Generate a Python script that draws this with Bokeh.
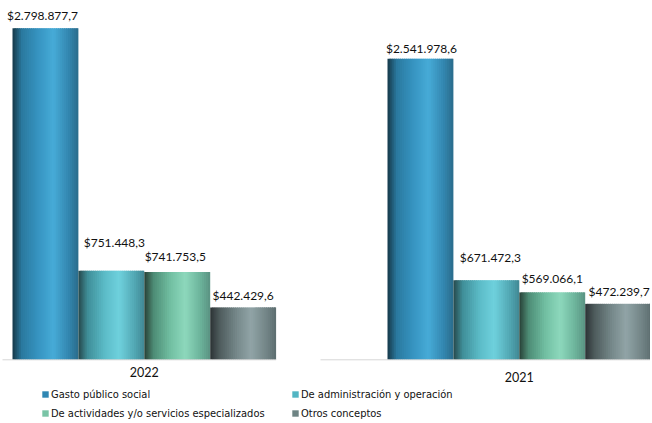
import numpy as np
from bokeh.plotting import figure
from bokeh.models import Range1d, Legend, LegendItem, ColumnDataSource
from bokeh.core.properties import value
from bokeh.embed import file_html
from bokeh.resources import INLINE

# ---------------- data ----------------
years = ["2022", "2021"]
series = ["Gasto público social", "De administración y operación",
          "De actividades y/o servicios especializados", "Otros conceptos"]
values_2022 = [2798877.7, 751448.3, 741753.5, 442429.6]
values_2021 = [2541978.6, 671472.3, 569066.1, 472239.7]
group_values = [values_2022, values_2021]

# ---------------- style ----------------
gradients = [
    [(0.0, "#163848"), (0.14, "#2a799f"), (0.40, "#3795c2"), (0.62, "#47abd7"), (0.85, "#3387b0"), (1.0, "#2a6c8b")],
    [(0.0, "#26484c"), (0.14, "#3f8e98"), (0.40, "#5cbcc8"), (0.62, "#6fd1dd"), (0.85, "#52a8b4"), (1.0, "#418894")],
    [(0.0, "#283f36"), (0.14, "#4d8c75"), (0.40, "#72c0a3"), (0.62, "#8dd8bc"), (0.85, "#6cb39b"), (1.0, "#5a9382")],
    [(0.0, "#2b3335"), (0.14, "#4e5b5c"), (0.40, "#75888a"), (0.62, "#91a4a7"), (0.85, "#738587"), (1.0, "#5d6e70")],
]
legend_colors = ["#2f87b3", "#52b5c3", "#79c4a6", "#6e8484"]

W, H = 650, 423
UNIT = 65.9            # px per bar
G1_START_PX = 12.0
BASE1_START_PX = 2.0
G2_START_PX = 387.0
BASE2_START_PX = 320.0
BASE_PX = 359.3        # baseline, px from top of frame
TOP_PX = 27.7          # top of tallest bar
# per-label offsets (px): centre of label above bar top, and horizontal shift
label_dy = [[13.2, 28.5, 15.3, 12.2], [10.3, 23.2, 14.3, 12.0]]
label_dx = [[-3, 3, -2, 0], [1, 4, 0, 1]]
year_dy = [11.7, 17.2]

X0 = -0.5 - G1_START_PX / UNIT
X1 = X0 + W / UNIT
group_offsets = [0.0, X0 + G2_START_PX / UNIT + 0.5]

max_val = max(max(v) for v in group_values)
upp = max_val / (BASE_PX - TOP_PX)
Y1 = BASE_PX * upp
Y0 = -(H - BASE_PX) * upp


def fmt(v):
    s = f"{v:,.1f}"
    return "$" + s.replace(",", "X").replace(".", ",").replace("X", ".")


def hex2rgb(h):
    h = h.lstrip("#")
    return np.array([int(h[i:i + 2], 16) for i in (0, 2, 4)], dtype=float)


def grad_color(stops, t):
    pos = [s[0] for s in stops]
    cols = np.array([hex2rgb(s[1]) for s in stops])
    rgb = [np.interp(t, pos, cols[:, k]) for k in range(3)]
    return "#%02x%02x%02x" % tuple(int(round(c)) for c in rgb)


p = figure(width=W, height=H, output_backend="svg", toolbar_location=None,
           x_range=Range1d(X0, X1), y_range=Range1d(Y0, Y1),
           min_border=0, min_border_left=0, min_border_right=0,
           min_border_top=0, min_border_bottom=0)
p.axis.visible = False
p.grid.visible = False
p.outline_line_color = None
p.background_fill_color = "white"
p.border_fill_color = "white"

# gradient bars as thin stripes
N = 32
L, R, T, B, C = [], [], [], [], []
for g, vals in enumerate(group_values):
    for i, v in enumerate(vals):
        xc = group_offsets[g] + i
        for k in range(N):
            t = (k + 0.5) / N
            left = xc - 0.5 + k / N
            right = min(xc - 0.5 + (k + 1.6) / N, xc + 0.5)
            L.append(left); R.append(right); T.append(v); B.append(0)
            C.append(grad_color(gradients[i], t))
p.quad(left="l", right="r", top="t", bottom="b", fill_color="c", line_color=None,
       source=ColumnDataSource(dict(l=L, r=R, t=T, b=B, c=C)))

# baselines
p.segment(x0=[X0 + BASE1_START_PX / UNIT, X0 + BASE2_START_PX / UNIT],
          y0=[0, 0],
          x1=[group_offsets[0] + len(values_2022) - 0.5, group_offsets[1] + len(values_2021) - 0.5],
          y1=[0, 0], line_color="#d6d6d6", line_width=1)

# value labels
for g, vals in enumerate(group_values):
    xs = [group_offsets[g] + i for i in range(len(vals))]
    p.text(x=xs, y=vals, text=[fmt(v) for v in vals],
           x_offset=label_dx[g], y_offset=[-d for d in label_dy[g]],
           text_align="center", text_baseline="middle",
           text_font=value("Lato"), text_font_size="12px", text_color="#111111")

# year labels
for g, yr in enumerate(years):
    n = len(group_values[g])
    p.text(x=[group_offsets[g] + (n - 1) / 2], y=[0], text=[yr], y_offset=year_dy[g],
           text_align="center", text_baseline="middle",
           text_font=value("Lato"), text_font_size="12.5px", text_color="#111111")

# legend (swatches drawn off-range so only the legend shows them)
rs = [p.quad(left=[X0 - 10], right=[X0 - 9], top=[1], bottom=[0],
             fill_color=c, line_color=None) for c in legend_colors]
cols = [[0, 2], [1, 3]]
xs_leg = [41, 291]
for ci, idxs in enumerate(cols):
    leg = Legend(items=[LegendItem(label=series[j], renderers=[rs[j]]) for j in idxs],
                 location=(xs_leg[ci], 3), orientation="vertical",
                 padding=0, margin=0, spacing=5, label_standoff=2,
                 glyph_width=8, glyph_height=8, label_height=14,
                 border_line_alpha=0, background_fill_alpha=0,
                 label_text_font="'Liberation Sans Narrow', 'DejaVu Sans Condensed', Roboto",
                 label_text_font_size="11px",
                 label_text_color="#111111")
    p.add_layout(leg)

open("out.html", "w").write(file_html(p, INLINE))
